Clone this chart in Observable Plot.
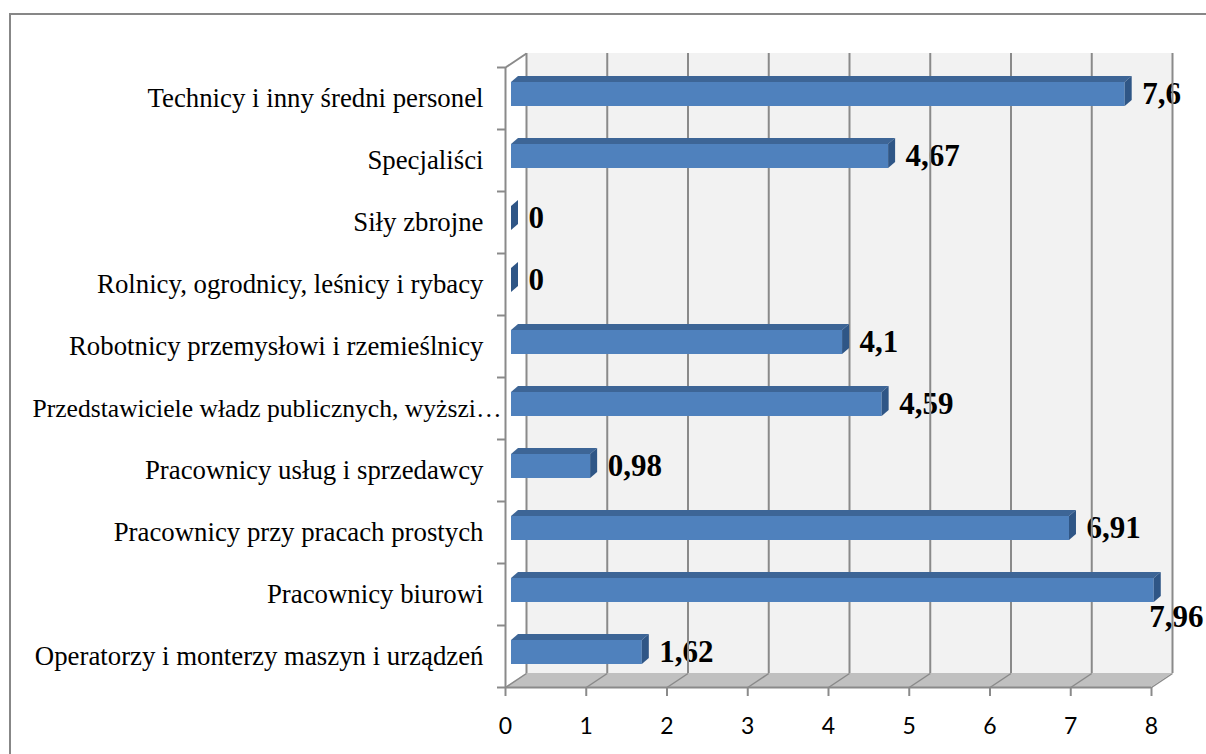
<!DOCTYPE html>
<html>
<head>
<meta charset="utf-8">
<script src="https://cdn.jsdelivr.net/npm/d3@7"></script>
<script src="https://cdn.jsdelivr.net/npm/@observablehq/plot@0.6"></script>
<style>
  html, body { margin: 0; padding: 0; background: #fff; width: 1206px; height: 754px; overflow: hidden; }
  #chart { position: absolute; left: 0; top: 0; }
  #border { position: absolute; left: 9px; top: 13px; width: 1260px; height: 820px; border: 2px solid #878787; pointer-events: none; z-index: 2; }
</style>
</head>
<body>
<div id="chart"></div>
<div id="border"></div>
<script>
// ---- data ----
const categories = [
  "Technicy i inny średni personel",
  "Specjaliści",
  "Siły zbrojne",
  "Rolnicy, ogrodnicy, leśnicy i rybacy",
  "Robotnicy przemysłowi i rzemieślnicy",
  "Przedstawiciele władz publicznych, wyższi…",
  "Pracownicy usług i sprzedawcy",
  "Pracownicy przy pracach prostych",
  "Pracownicy biurowi",
  "Operatorzy i monterzy maszyn i urządzeń"
];
const values = [7.6, 4.67, 0, 0, 4.1, 4.59, 0.98, 6.91, 7.96, 1.62];
const valueLabels = ["7,6", "4,67", "0", "0", "4,1", "4,59", "0,98", "6,91", "7,96", "1,62"];
const xTicks = [0, 1, 2, 3, 4, 5, 6, 7, 8];

// ---- layout (pixels) ----
const W = 1206, H = 754;
const mL = 505, mR = 55, mT = 67, mB = 67;
const xMax = xTicks[xTicks.length - 1];
const n = categories.length;
const kx = (W - mL - mR) / xMax;     // px per x unit
const ky = (H - mT - mB) / n;        // px per category
// 3D depth (px -> data units)
const DX = 21 / kx, DY = 14 / ky;    // wall depth
const ox = 6 / kx, oy = 4 / ky;      // bar front offset
const bh = 12 / ky;                  // bar half height
const bdx = 7 / kx, bdy = 6 / ky;    // bar depth

const bars = categories.map((c, i) => ({
  cat: c, v: values[i], label: valueLabels[i], yc: n - 1 - i + 0.5
}));
const topFace = bars.flatMap(b => [
  {cat: b.cat, y: b.yc + oy + bh, x1: ox, x2: b.v + ox},
  {cat: b.cat, y: b.yc + oy + bh + bdy, x1: ox + bdx, x2: b.v + ox + bdx}
]);
const sideFace = bars.flatMap(b => [
  {cat: b.cat, x: b.v + ox, y1: b.yc + oy - bh, y2: b.yc + oy + bh},
  {cat: b.cat, x: b.v + ox + bdx, y1: b.yc + oy - bh + bdy, y2: b.yc + oy + bh + bdy}
]);
const floor = [
  {y: 0, x1: 0, x2: xMax},
  {y: DY, x1: DX, x2: xMax + DX}
];
const below = b => b.v / xMax > 0.97;
const truncated = b => b.cat.endsWith("…");
const grid = "#8a8a8a";
const serif = "'Liberation Serif', 'Times New Roman', serif";

const chart = Plot.plot({
  width: W, height: H,
  marginLeft: mL, marginRight: mR, marginTop: mT, marginBottom: mB,
  style: {background: "transparent", overflow: "visible"},
  x: {domain: [0, xMax], axis: null},
  y: {domain: [0, n], axis: null},
  marks: [
    // back wall
    Plot.rect([0], {x1: DX, x2: xMax + DX, y1: DY, y2: n + DY, fill: "#f2f2f2"}),
    // floor
    Plot.areaX(floor, {y: "y", x1: "x1", x2: "x2", fill: "#c0c0c0"}),
    // value labels to the right of the bars (under gridlines as in the reference)
    Plot.text(bars.filter(b => !below(b)), {
      x: "v", y: d => d.yc + oy, text: "label", dx: 23,
      textAnchor: "start", fontFamily: serif,
      fontWeight: "bold", fontSize: 31, fill: "#000"
    }),
    // gridlines on back wall
    Plot.ruleX(xTicks, {x: d => d + DX, y1: DY, y2: n + DY, stroke: grid, strokeWidth: 2}),
    // floor diagonals
    Plot.link(xTicks, {x1: d => d, y1: 0, x2: d => d + DX, y2: DY, stroke: grid, strokeWidth: 1.5}),
    // left side edges
    Plot.link([0], {x1: 0, y1: n, x2: DX, y2: n + DY, stroke: grid, strokeWidth: 2}),
    Plot.ruleX([0], {y1: 0, y2: n, stroke: grid, strokeWidth: 2}),
    Plot.ruleY([0], {x1: 0, x2: xMax, stroke: grid, strokeWidth: 2}),
    // axes
    Plot.axisX(xTicks, {tickSize: 9, tickPadding: 21, stroke: grid, strokeWidth: 2,
      fontFamily: "Lato, 'Open Sans', sans-serif", fontSize: 23, fill: "#000"}),
    Plot.axisY(d3.range(n + 1), {tickSize: 8, tickFormat: () => "", stroke: grid, strokeWidth: 2}),
    // category labels
    Plot.text(bars.filter(b => !truncated(b)), {
      x: 0, y: "yc", text: "cat", dx: -22, textAnchor: "end",
      fontFamily: serif, fill: "#000", fontSize: 26.8
    }),
    Plot.text(bars.filter(truncated), {
      x: 0, y: "yc", text: "cat", dx: -4, textAnchor: "end",
      fontFamily: serif, fill: "#000", fontSize: 25.6
    }),
    // bars: front, top, side faces
    Plot.rect(bars, {x1: ox, x2: d => d.v + ox, y1: d => d.yc + oy - bh, y2: d => d.yc + oy + bh, fill: "#4f81bd"}),
    Plot.areaX(topFace, {y: "y", x1: "x1", x2: "x2", z: "cat", fill: "#3d6596"}),
    Plot.areaY(sideFace, {x: "x", y1: "y1", y2: "y2", z: "cat", fill: "#2f5686"}),
    // value label placed below the bar when it does not fit to the right
    Plot.text(bars.filter(below), {
      x: "v", y: d => d.yc + oy, text: "label", dx: 1, dy: 27,
      textAnchor: "start", fontFamily: serif,
      fontWeight: "bold", fontSize: 31, fill: "#000"
    })
  ]
});
document.getElementById("chart").appendChild(chart);
</script>
</body>
</html>
